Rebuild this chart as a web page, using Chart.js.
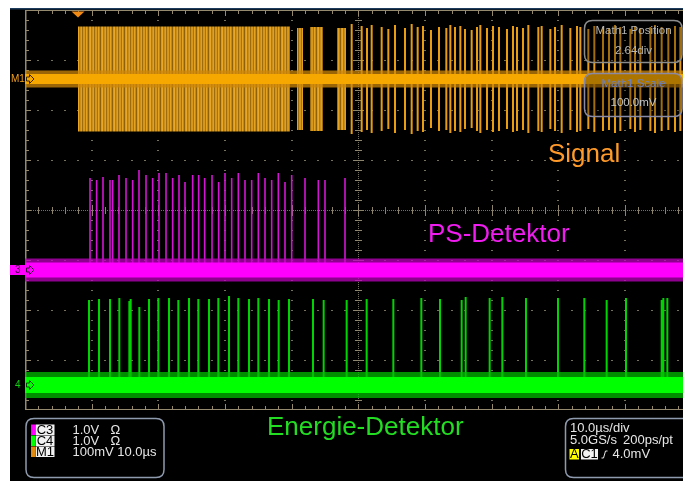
<!DOCTYPE html>
<html>
<head>
<meta charset="utf-8">
<script src="https://cdn.jsdelivr.net/npm/chart.js@4.4.0/dist/chart.umd.min.js"></script>
<style>
  html, body { margin: 0; padding: 0; background: #fff; }
  #scope { position: absolute; left: 0; top: 0; }
</style>
</head>
<body>
<canvas id="scope" width="683" height="481"></canvas>
<script>
// x in µs (10 µs/div), y in divisions (0 = bottom of screen)
var timeRange = [0, 98.7];
var divRange = [0, 8];

// channel baselines (div)
var m1Base = 6.62;
var c3Base = 2.8;
var c4Base = 0.5;

// M1 "Signal": dense bursts (start, end in µs, amplitude in div)
var m1BurstStart = [7.95, 40.8, 42.75, 46.8];
var m1BurstEnd   = [39.75, 41.7, 44.7, 48.15];
var m1BurstAmp   = [1.05, 1.02, 1.04, 1.02];

// M1 single packets
var m1SpikeT = [49.0, 50.5, 51.3, 52.0, 53.5, 54.5, 55.5, 57.0, 58.0, 58.9, 59.7, 60.9, 62.1, 63.2, 63.8,
  64.5, 65.3, 66.0, 67.0, 67.8, 68.3, 69.3, 70.2, 71.1, 72.3, 73.2, 73.8, 74.7, 75.5, 77.0, 77.5, 78.8,
  79.5, 80.5, 81.8, 82.8, 83.3, 84.5, 85.4, 86.7, 87.6, 88.5, 89.3, 90.8, 91.5, 92.3, 93.8, 94.5, 95.5,
  96.5, 97.5, 98.3];
var m1SpikeAmp = [1.10, 1.06, 1.02, 1.08, 1.04, 1.00, 1.08, 1.02, 1.10, 1.04, 1.06, 0.98, 1.04, 1.02, 1.08,
  1.04, 1.06, 1.00, 0.98, 1.04, 1.08, 1.02, 1.06, 1.04, 1.00, 1.06, 1.04, 1.02, 1.08, 1.04, 1.06, 1.00,
  1.04, 1.08, 1.02, 1.06, 1.04, 1.00, 1.06, 1.04, 1.02, 1.08, 1.04, 1.00, 1.06, 1.02, 1.04, 1.08, 1.04,
  1.02, 1.06, 1.04];

// C3 "PS-Detektor" pulses (µs, top in div)
var c3SpikeT = [9.75, 10.75, 11.7, 12.75, 13.15, 14.1, 15.15, 16.15, 17.1, 18.15, 19.15, 20.1, 21.15, 22.15,
  23.1, 24.0, 25.15, 26.05, 26.95, 28.05, 29.05, 30.0, 31.0, 32.0, 33.0, 34.0, 35.0, 36.0, 37.0, 38.0,
  39.0, 40.0, 42.0, 44.0, 45.0, 48.0];
var c3SpikeTop = [4.64, 4.60, 4.66, 4.60, 4.60, 4.70, 4.64, 4.60, 4.80, 4.70, 4.64, 4.74, 4.74, 4.64,
  4.70, 4.56, 4.70, 4.70, 4.64, 4.70, 4.56, 4.74, 4.64, 4.74, 4.60, 4.60, 4.74, 4.64, 4.60, 4.74,
  4.56, 4.70, 4.64, 4.60, 4.60, 4.64];

// C4 "Energie-Detektor" pulses (µs, top in div)
var c4SpikeT = [9.6, 11.1, 12.75, 14.15, 15.65, 15.85, 17.15, 18.6, 20.0, 21.6, 23.0, 24.6, 26.0, 27.6,
  29.0, 30.6, 32.0, 33.6, 35.0, 36.6, 38.05, 39.6, 43.2, 44.8, 48.25, 51.25, 55.25, 59.45, 62.25, 65.5,
  66.1, 69.7, 71.6, 75.15, 79.95, 83.9, 87.25, 90.15, 95.5, 95.75, 96.35];
var c4SpikeTop = [2.20, 2.22, 2.22, 2.24, 2.18, 2.22, 2.06, 2.22, 2.24, 2.24, 2.20, 2.24, 2.22, 2.22,
  2.24, 2.28, 2.24, 2.22, 2.24, 2.22, 2.20, 2.22, 2.22, 2.20, 2.20, 2.22, 2.22, 2.24, 2.22, 2.20,
  2.26, 2.24, 2.26, 2.24, 2.24, 2.24, 2.20, 2.24, 2.20, 2.24, 2.24];

function bandLine(base) {
  return [{ x: timeRange[0], y: base }, { x: timeRange[1], y: base }];
}

function m1Spikes() {
  var pts = [];
  for (var i = 0; i < m1SpikeT.length; i++) {
    var t = m1SpikeT[i], a = m1SpikeAmp[i];
    pts.push({ x: t, y: m1Base }, { x: t, y: m1Base + a }, { x: t, y: m1Base - a }, { x: t, y: m1Base });
  }
  return pts;
}

function burstEdge(sign) {
  var pts = [{ x: timeRange[0], y: m1Base }];
  for (var i = 0; i < m1BurstStart.length; i++) {
    var y = m1Base + sign * m1BurstAmp[i];
    pts.push({ x: m1BurstStart[i], y: m1Base }, { x: m1BurstStart[i], y: y },
             { x: m1BurstEnd[i], y: y }, { x: m1BurstEnd[i], y: m1Base });
  }
  pts.push({ x: timeRange[1], y: m1Base });
  return pts;
}

function upSpikes(times, tops, base) {
  var pts = [];
  for (var i = 0; i < times.length; i++) {
    pts.push({ x: times[i], y: base }, { x: times[i], y: tops[i] }, { x: times[i], y: base });
  }
  return pts;
}

// streaky fill for the dense bursts
var pc = document.createElement('canvas');
pc.width = 12; pc.height = 1;
var pctx = pc.getContext('2d');
var streaks = ['#d8981a', '#a8740e', '#e4a422', '#c4881a', '#8e620c', '#d69a1e',
               '#eaa826', '#b27c12', '#cc901a', '#e0a020', '#9c6c0e', '#d49418'];
streaks.forEach(function (c, i) { pctx.fillStyle = c; pctx.fillRect(i, 0, 1, 1); });
var burstFill = pctx.createPattern(pc, 'repeat');

function roundBox(ctx, x, y, w, h, r) {
  ctx.beginPath();
  ctx.moveTo(x + r, y);
  ctx.lineTo(x + w - r, y);
  ctx.quadraticCurveTo(x + w, y, x + w, y + r);
  ctx.lineTo(x + w, y + h - r);
  ctx.quadraticCurveTo(x + w, y + h, x + w - r, y + h);
  ctx.lineTo(x + r, y + h);
  ctx.quadraticCurveTo(x, y + h, x, y + h - r);
  ctx.lineTo(x, y + r);
  ctx.quadraticCurveTo(x, y, x + r, y);
  ctx.closePath();
}

var FONT = '"Liberation Sans", Arial, sans-serif';

var screenPlugin = {
  id: 'screen',
  beforeDraw: function (chart) {
    var ctx = chart.ctx;
    ctx.save();
    ctx.fillStyle = '#000';
    ctx.fillRect(0, 0, chart.width, chart.height);
    ctx.fillStyle = '#fff';
    ctx.fillRect(0, 0, chart.width, 8);
    ctx.fillRect(0, 0, 10, chart.height);
    ctx.fillStyle = '#1d3b5c';
    ctx.fillRect(10, 8, chart.width - 10, 1.5);
    ctx.restore();
  },
  beforeDatasetsDraw: function (chart) {
    var ctx = chart.ctx, xs = chart.scales.x, ys = chart.scales.y, a = chart.chartArea;
    var i, k, px, py;
    ctx.save();
    ctx.fillStyle = 'rgb(118,112,94)';
    // dotted division lines
    for (i = 1; i < 10; i++) {
      if (i === 5) continue;
      px = Math.round(xs.getPixelForValue(i * 10));
      for (k = 1; k < 40; k++) {
        py = Math.round(ys.getPixelForValue(k * 0.2));
        ctx.fillRect(px - 1, py, 2, 1);
      }
    }
    for (var j = 1; j < 8; j++) {
      if (j === 4) continue;
      py = Math.round(ys.getPixelForValue(j));
      for (k = 1; k < 50; k++) {
        px = Math.round(xs.getPixelForValue(k * 2));
        ctx.fillRect(px - 1, py, 2, 1);
      }
    }
    // centre cross
    var cx = Math.round(xs.getPixelForValue(50));
    var cy = Math.round(ys.getPixelForValue(4));
    for (py = a.top; py < a.bottom; py += 2) ctx.fillRect(cx, py, 1, 1);
    for (px = a.left; px < a.right; px += 2) ctx.fillRect(px, cy, 1, 1);
    ctx.fillStyle = 'rgb(140,132,108)';
    for (k = 1; k < 40; k++) {
      py = Math.round(ys.getPixelForValue(k * 0.2));
      var w = (k % 5 === 0) ? 5 : 3;
      ctx.fillRect(cx - w, py, 2 * w + 1, 1);
    }
    for (k = 1; k < 50; k++) {
      px = Math.round(xs.getPixelForValue(k * 2));
      var h = (k % 5 === 0) ? 5 : 3;
      ctx.fillRect(px, cy - h, 1, 2 * h + 1);
    }
    // border with ticks
    ctx.fillStyle = 'rgb(150,138,110)';
    ctx.fillRect(a.left, a.top, 1.5, a.bottom - a.top);
    ctx.fillRect(a.left, a.top, a.right - a.left, 1);
    ctx.fillRect(a.left, a.bottom - 1, a.right - a.left, 1);
    for (k = 1; k < 50; k++) {
      px = Math.round(xs.getPixelForValue(k * 2));
      var t = (k % 5 === 0) ? 5 : 3;
      ctx.fillRect(px, a.top + 1, 1, t);
      ctx.fillRect(px, a.bottom - 1 - t, 1, t);
    }
    for (k = 1; k < 40; k++) {
      py = Math.round(ys.getPixelForValue(k * 0.2));
      ctx.fillRect(a.left + 1, py, (k % 5 === 0) ? 5 : 3, 1);
    }
    ctx.restore();
  },
  afterDatasetsDraw: function (chart) {
    var ctx = chart.ctx, xs = chart.scales.x, ys = chart.scales.y;
    ctx.save();

    // trigger position marker
    var tx = xs.getPixelForValue(m1BurstStart[0]);
    ctx.fillStyle = '#f08a14';
    ctx.beginPath();
    ctx.moveTo(tx - 6.5, 11.5); ctx.lineTo(tx + 6.5, 11.5); ctx.lineTo(tx, 17.5); ctx.closePath();
    ctx.fill();

    // channel ground markers
    function arrow(y, fill, stroke) {
      ctx.beginPath();
      ctx.moveTo(26.5, y - 2); ctx.lineTo(29.5, y - 2); ctx.lineTo(29.5, y - 4.5);
      ctx.lineTo(34, y); ctx.lineTo(29.5, y + 4.5); ctx.lineTo(29.5, y + 2); ctx.lineTo(26.5, y + 2);
      ctx.closePath();
      ctx.fillStyle = fill; ctx.fill();
      ctx.strokeStyle = stroke; ctx.lineWidth = 1; ctx.stroke();
    }
    var y1 = ys.getPixelForValue(m1Base);
    var y3 = ys.getPixelForValue(c3Base);
    var y4 = ys.getPixelForValue(c4Base);
    ctx.font = '10px ' + FONT;
    ctx.textBaseline = 'middle';
    ctx.textAlign = 'left';
    ctx.fillStyle = '#f0a020';
    ctx.fillText('M1', 11, y1 + 0.5);
    arrow(y1, '#f7a800', '#3a2400');
    ctx.fillStyle = '#ff00ff';
    ctx.fillRect(10, y3 - 5, 16, 10);
    ctx.fillStyle = '#3a003a';
    ctx.fillText('3', 15, y3 + 0.5);
    arrow(y3, '#ff00ff', '#3a003a');
    ctx.fillStyle = '#10d010';
    ctx.fillText('4', 15, y4 + 0.5);
    arrow(y4, '#00ff00', '#004000');

    // trace labels
    ctx.textBaseline = 'alphabetic';
    ctx.font = '26px ' + FONT;
    ctx.fillStyle = '#ff9a2a';
    ctx.fillText('Signal', 548, 162);
    ctx.fillStyle = '#f01cf0';
    ctx.fillText('PS-Detektor', 428, 242);
    ctx.fillStyle = '#22dd22';
    ctx.fillText('Energie-Detektor', 267, 434.5);

    // Math1 boxes
    ctx.lineWidth = 1.5;
    roundBox(ctx, 584.5, 20.5, 97.5, 42, 8);
    ctx.fillStyle = 'rgba(0,0,0,0.3)'; ctx.fill();
    ctx.strokeStyle = '#8c8c8c'; ctx.stroke();
    roundBox(ctx, 584.5, 73.5, 97.5, 43, 8);
    ctx.fillStyle = 'rgba(0,0,0,0.3)'; ctx.fill();
    ctx.strokeStyle = '#8a8aa6'; ctx.stroke();
    ctx.textAlign = 'center';
    ctx.textBaseline = 'middle';
    ctx.font = '11.5px ' + FONT;
    ctx.fillStyle = '#b4b4b4';
    ctx.fillText('Math1 Position', 633.5, 31);
    ctx.fillText('2.64div', 633.5, 50.5);
    ctx.fillStyle = '#6a80c4';
    ctx.fillText('Math1 Scale', 633.5, 84);
    ctx.fillStyle = '#c4c4c4';
    ctx.fillText('100.0mV', 633.5, 103);

    // channel readout box
    ctx.lineWidth = 1.5;
    ctx.strokeStyle = '#8e9aae';
    roundBox(ctx, 26, 418.5, 138, 59, 8);
    ctx.stroke();
    var rows = [
      { tag: 'C3', col: '#ff00ff', text: '1.0V', extra: 'Ω', y: 424.5 },
      { tag: 'C4', col: '#00ff00', text: '1.0V', extra: 'Ω', y: 435.5 },
      { tag: 'M1', col: '#e08a10', text: '100mV 10.0µs', extra: '', y: 446.5 }
    ];
    ctx.font = '13px ' + FONT;
    rows.forEach(function (r) {
      ctx.fillStyle = r.col;
      ctx.fillRect(31, r.y, 4, 10.5);
      ctx.fillStyle = '#f2f2f2';
      ctx.fillRect(35.5, r.y, 19, 10.5);
      ctx.fillStyle = '#000';
      ctx.textAlign = 'center';
      ctx.fillText(r.tag, 45, r.y + 5.5);
      ctx.textAlign = 'left';
      ctx.fillStyle = '#e6e6e6';
      ctx.fillText(r.text, 72.5, r.y + 5.5);
      if (r.extra) ctx.fillText(r.extra, 110.5, r.y + 5.5);
    });

    // timebase / trigger box
    ctx.strokeStyle = '#8e9aae';
    roundBox(ctx, 565.5, 418.5, 130, 59, 8);
    ctx.stroke();
    ctx.fillStyle = '#e6e6e6';
    ctx.fillText('10.0µs/div', 570, 428.5);
    ctx.fillText('5.0GS/s', 570, 440);
    ctx.fillText('200ps/pt', 623, 440);
    ctx.fillStyle = '#ffff00';
    ctx.fillRect(569.5, 449, 9.5, 10.5);
    ctx.fillStyle = '#f2f2f2';
    ctx.fillRect(581, 449, 17, 10.5);
    ctx.fillStyle = '#000';
    ctx.textAlign = 'center';
    ctx.fillText('A', 574.3, 454.5);
    ctx.fillText('C1', 589.5, 454.5);
    ctx.strokeStyle = '#e6e6e6';
    ctx.lineWidth = 1;
    ctx.beginPath();
    ctx.moveTo(601.5, 458); ctx.lineTo(603.5, 458); ctx.lineTo(605.5, 451); ctx.lineTo(607.5, 451);
    ctx.stroke();
    ctx.textAlign = 'left';
    ctx.fillStyle = '#e6e6e6';
    ctx.fillText('4.0mV', 612.5, 454.5);
    ctx.restore();
  }
};

function trace(data, color, width) {
  return { data: data, borderColor: color, borderWidth: width, pointRadius: 0, tension: 0, fill: false };
}

var upper = trace(burstEdge(1), 'rgba(0,0,0,0)', 0);
var lower = trace(burstEdge(-1), 'rgba(0,0,0,0)', 0);
lower.fill = '-1';
lower.backgroundColor = burstFill;

new Chart(document.getElementById('scope'), {
  type: 'line',
  data: {
    datasets: [
      trace(bandLine(m1Base), '#f7a800', 10),
      trace(bandLine(m1Base), 'rgba(205,135,10,0.75)', 17),
      trace(bandLine(c3Base), '#ff00ff', 15),
      trace(bandLine(c3Base), 'rgba(190,0,190,0.75)', 23),
      trace(bandLine(c4Base), '#00ff00', 16),
      trace(bandLine(c4Base), 'rgba(0,190,0,0.75)', 26),
      trace(m1Spikes(), '#e89c12', 2),
      upper,
      lower,
      trace(upSpikes(c3SpikeT, c3SpikeTop, c3Base), '#d414d4', 1.6),
      trace(upSpikes(c4SpikeT, c4SpikeTop, c4Base), '#00d400', 2)
    ]
  },
  options: {
    responsive: false,
    animation: false,
    devicePixelRatio: 1,
    layout: { padding: { left: 25, top: 10, right: 0, bottom: 71 } },
    scales: {
      x: { type: 'linear', min: timeRange[0], max: timeRange[1], display: false },
      y: { type: 'linear', min: divRange[0], max: divRange[1], display: false }
    },
    plugins: { legend: { display: false }, tooltip: { enabled: false } }
  },
  plugins: [screenPlugin]
});
</script>
</body>
</html>
